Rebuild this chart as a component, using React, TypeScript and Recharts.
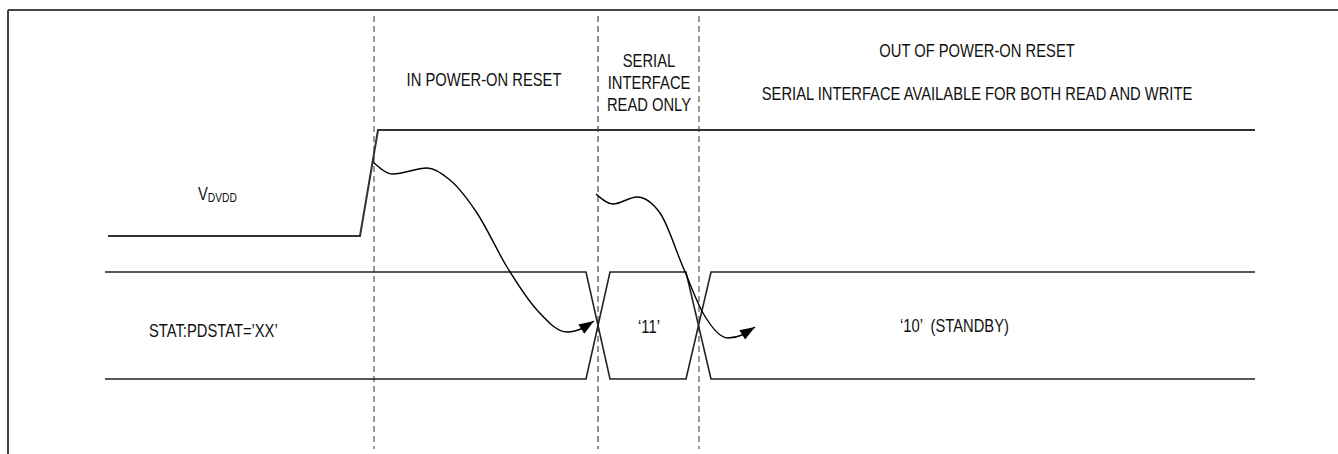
import { ComposedChart, Line, XAxis, YAxis, ReferenceLine } from 'recharts';

// timing diagram, x = time (px), y = level (px from top)
const vdvdd = [
  { x: 108, y: 236 },
  { x: 360, y: 236 },
  { x: 378, y: 130 },
  { x: 1255, y: 130 },
];

const busA = [
  { x: 105, y: 272 },
  { x: 586, y: 272 },
  { x: 610, y: 379 },
  { x: 686, y: 379 },
  { x: 711, y: 272 },
  { x: 1255, y: 272 },
];

const busB = [
  { x: 105, y: 379 },
  { x: 586, y: 379 },
  { x: 610, y: 272 },
  { x: 686, y: 272 },
  { x: 711, y: 379 },
  { x: 1255, y: 379 },
];

const resetCurve = [
  { x: 373, y: 162 },
  { x: 393, y: 174 },
  { x: 427, y: 168 },
  { x: 450, y: 180 },
  { x: 477, y: 213 },
  { x: 507, y: 267 },
  { x: 537, y: 310 },
  { x: 567, y: 332 },
  { x: 583, y: 328 },
  { x: 594, y: 321 },
];

const readOnlyCurve = [
  { x: 596, y: 194 },
  { x: 613, y: 204 },
  { x: 637, y: 197 },
  { x: 660, y: 213 },
  { x: 683, y: 267 },
  { x: 703, y: 313 },
  { x: 728, y: 338 },
  { x: 742, y: 335 },
  { x: 755, y: 327 },
];

const markers = [374, 598, 699];

const FONT = '"Liberation Sans", Arial, sans-serif';
const SQUEEZE = 0.82; // reference uses a condensed face

const arrowDot = (data: { x: number; y: number }[]) => (props: any) => {
  const { cx, cy, index } = props;
  if (index !== data.length - 1) return <g key={`d${index}`} />;
  const p = data[data.length - 2];
  const q = data[data.length - 1];
  const a = Math.atan2(q.y - p.y, q.x - p.x);
  const len = 15;
  const hw = 5.5;
  const bx = cx - len * Math.cos(a);
  const by = cy - len * Math.sin(a);
  const nx = -Math.sin(a) * hw;
  const ny = Math.cos(a) * hw;
  return (
    <polygon
      key={`d${index}`}
      points={`${cx},${cy} ${bx + nx},${by + ny} ${bx - nx},${by - ny}`}
      fill="#000"
    />
  );
};

const Txt = ({
  x,
  y,
  anchor = 'start',
  children,
}: {
  x: number;
  y: number;
  anchor?: 'start' | 'middle';
  children: any;
}) => (
  <g transform={`translate(${x},${y}) scale(${SQUEEZE},1)`}>
    <text x={0} y={0} textAnchor={anchor} fontFamily={FONT} fontSize={18} fill="#111" style={{ whiteSpace: 'pre' }}>
      {children}
    </text>
  </g>
);

export default function App() {
  return (
    <div style={{ position: 'absolute', left: 0, top: 0, background: '#fff' }}>
      <ComposedChart width={1338} height={454} margin={{ top: 0, right: 0, bottom: 0, left: 0 }}>
        <XAxis type="number" dataKey="x" domain={[0, 1338]} hide />
        <YAxis type="number" dataKey="y" domain={[0, 454]} reversed hide />

        {/* frame */}
        <ReferenceLine segment={[{ x: 8, y: 10 }, { x: 1338, y: 10 }]} stroke="#444" strokeWidth={2} />
        <ReferenceLine segment={[{ x: 8, y: 10 }, { x: 8, y: 454 }]} stroke="#444" strokeWidth={2} />

        {markers.map((m, i) => (
          <ReferenceLine
            key={m}
            segment={[{ x: m, y: 16 }, { x: m, y: 449 }]}
            stroke={i === 1 ? '#222' : '#777'}
            strokeWidth={i === 1 ? 1 : 1.5}
            strokeDasharray="6 4"
          />
        ))}

        <Line data={vdvdd} dataKey="y" type="linear" stroke="#333" strokeWidth={2} dot={false} activeDot={false} isAnimationActive={false} />
        <Line data={busA} dataKey="y" type="linear" stroke="#222" strokeWidth={1.6} dot={false} activeDot={false} isAnimationActive={false} />
        <Line data={busB} dataKey="y" type="linear" stroke="#222" strokeWidth={1.6} dot={false} activeDot={false} isAnimationActive={false} />
        <Line data={resetCurve} dataKey="y" type="monotoneX" stroke="#000" strokeWidth={1.4} dot={arrowDot(resetCurve)} activeDot={false} isAnimationActive={false} />
        <Line data={readOnlyCurve} dataKey="y" type="monotoneX" stroke="#000" strokeWidth={1.4} dot={arrowDot(readOnlyCurve)} activeDot={false} isAnimationActive={false} />

        <Txt x={484} y={86} anchor="middle">IN POWER-ON RESET</Txt>
        <Txt x={649} y={67} anchor="middle">SERIAL</Txt>
        <Txt x={649} y={89} anchor="middle">INTERFACE</Txt>
        <Txt x={649} y={111} anchor="middle">READ ONLY</Txt>
        <Txt x={977} y={57} anchor="middle">OUT OF POWER-ON RESET</Txt>
        <Txt x={977} y={100} anchor="middle">SERIAL INTERFACE AVAILABLE FOR BOTH READ AND WRITE</Txt>
        <Txt x={198} y={200}>
          V<tspan fontSize={12.5} dy={2}>DVDD</tspan>
        </Txt>
        <Txt x={149} y={337}>STAT:PDSTAT=’XX’</Txt>
        <Txt x={649} y={333} anchor="middle">‘11’</Txt>
        <Txt x={900} y={332}>{'‘10’  (STANDBY)'}</Txt>
      </ComposedChart>
    </div>
  );
}
